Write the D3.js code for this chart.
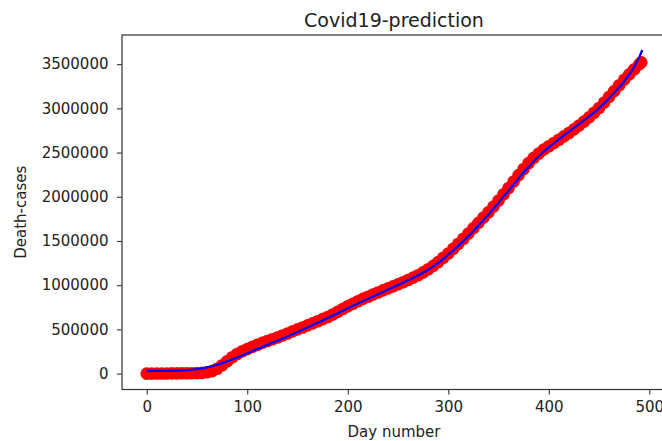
<!DOCTYPE html>
<html>
<head>
<meta charset="utf-8">
<script src="https://cdn.jsdelivr.net/npm/d3@7"></script>
<style>
  body { margin: 0; background: #fff; }
  text { font-family: "DejaVu Sans", sans-serif; fill: #222; }
</style>
</head>
<body>
<div id="chart"></div>
<script>
let obsDays = [0, 5, 10, 15, 20, 25, 30, 35, 40, 45, 50, 55, 60, 65, 70, 75, 80, 85, 90, 95,
  100, 105, 110, 115, 120, 125, 130, 135, 140, 145, 150, 155, 160, 165, 170, 175, 180, 185, 190, 195,
  200, 205, 210, 215, 220, 225, 230, 235, 240, 245, 250, 255, 260, 265, 270, 275, 280, 285, 290, 295,
  300, 305, 310, 315, 320, 325, 330, 335, 340, 345, 350, 355, 360, 365, 370, 375, 380, 385, 390, 395,
  400, 405, 410, 415, 420, 425, 430, 435, 440, 445, 450, 455, 460, 465, 470, 475, 480, 485, 490, 492];
let obsDeaths = [0, 0, 300, 500, 1000, 2000, 2500, 3000, 3200, 4000, 5000, 8000, 15000, 28000, 55000, 95000, 140000, 185000, 222000, 252000,
  278000, 302000, 325000, 347000, 368000, 388000, 409000, 431000, 454000, 477000, 500000, 522000, 545000, 568000, 592000, 616000, 640000, 668000, 698000, 730000,
  762000, 790000, 818000, 845000, 870000, 895000, 918000, 941000, 964000, 987000, 1010000, 1034000, 1058000, 1085000, 1113000, 1145000, 1180000, 1218000, 1262000, 1310000,
  1358000, 1412000, 1468000, 1525000, 1585000, 1645000, 1705000, 1765000, 1825000, 1890000, 1958000, 2028000, 2100000, 2172000, 2245000, 2315000, 2382000, 2440000, 2490000, 2535000,
  2572000, 2608000, 2645000, 2683000, 2722000, 2762000, 2805000, 2850000, 2898000, 2950000, 3005000, 3065000, 3130000, 3195000, 3262000, 3325000, 3385000, 3442000, 3498000, 3520000];

// fitted curve (blue line)
let fitDays = [0, 10, 20, 30, 40, 50, 60, 70, 80, 90, 100, 110, 120, 130, 140, 150, 160, 170, 180, 190,
  200, 210, 220, 230, 240, 250, 260, 270, 280, 290, 300, 310, 320, 330, 340, 350, 360, 370, 380, 390,
  400, 410, 420, 430, 440, 450, 460, 470, 475, 480, 485, 490, 493];
let fitDeaths = [30000, 30000, 31000, 33000, 38000, 50000, 70000, 100000, 138000, 182000, 230000, 278000, 325000, 372000, 420000, 470000, 522000, 575000, 628000, 682000,
  738000, 792000, 845000, 898000, 950000, 1002000, 1055000, 1112000, 1175000, 1252000, 1345000, 1445000, 1555000, 1675000, 1800000, 1932000, 2070000, 2208000, 2340000, 2458000,
  2560000, 2650000, 2737000, 2822000, 2908000, 3002000, 3115000, 3235000, 3305000, 3382000, 3470000, 3580000, 3660000];

let xTicks = [0, 100, 200, 300, 400, 500];
let yTicks = [0, 500000, 1000000, 1500000, 2000000, 2500000, 3000000, 3500000];

let W = 662, H = 441;
let margin = {top: 35, right: -4, bottom: 51.5, left: 122};

let svg = d3.select('#chart').append('svg')
  .attr('width', W)
  .attr('height', H);

svg.append('rect').attr('width', W).attr('height', H).attr('fill', '#fff');

let x = d3.scaleLinear()
  .domain([-24.6, 516.6])
  .range([margin.left, W - margin.right]);

let y = d3.scaleLinear()
  .domain([-180000, 3830000])
  .range([H - margin.bottom, margin.top]);

svg.append('clipPath').attr('id', 'plot')
  .append('rect')
  .attr('x', margin.left).attr('y', margin.top)
  .attr('width', W - margin.right - margin.left)
  .attr('height', H - margin.bottom - margin.top);

let plot = svg.append('g').attr('clip-path', 'url(#plot)');

// scatter
plot.selectAll('.dot')
  .data(obsDays)
  .enter().append('circle')
    .attr('class', 'dot')
    .attr('cx', d => x(d))
    .attr('cy', (d, i) => y(obsDeaths[i]))
    .attr('r', 6.3)
    .attr('fill', '#ff0000');

// fitted line
let line = d3.line()
  .x(d => x(d))
  .y((d, i) => y(fitDeaths[i]))
  .curve(d3.curveCatmullRom);

plot.append('path')
  .datum(fitDays)
  .attr('d', line)
  .attr('fill', 'none')
  .attr('stroke', '#0000ff')
  .attr('stroke-width', 2.2);

// axes
let xAxis = svg.append('g')
  .attr('transform', `translate(0, ${H - margin.bottom})`)
  .call(d3.axisBottom(x).tickValues(xTicks).tickSize(5).tickPadding(7).tickFormat(d3.format('d')));

let yAxis = svg.append('g')
  .attr('transform', `translate(${margin.left}, 0)`)
  .call(d3.axisLeft(y).tickValues(yTicks).tickSize(5).tickPadding(8.5).tickFormat(d3.format('d')));

[xAxis, yAxis].forEach(a => {
  a.select('.domain').remove();
  a.selectAll('line').attr('stroke', '#333').attr('stroke-width', 1.1);
  a.selectAll('text')
    .style('font-family', '"DejaVu Sans", sans-serif')
    .style('font-size', '15px')
    .attr('fill', '#222');
});

// frame
svg.append('rect')
  .attr('x', margin.left).attr('y', margin.top)
  .attr('width', W - margin.right - margin.left)
  .attr('height', H - margin.bottom - margin.top)
  .attr('fill', 'none')
  .attr('stroke', '#333')
  .attr('stroke-width', 1.2);

let cx = (margin.left + W - margin.right) / 2;

svg.append('text')
  .attr('x', cx).attr('y', 26.7)
  .attr('text-anchor', 'middle')
  .style('font-size', '19px')
  .text('Covid19-prediction');

svg.append('text')
  .attr('x', cx).attr('y', 437)
  .attr('text-anchor', 'middle')
  .style('font-size', '15px')
  .text('Day number');

svg.append('text')
  .attr('transform', `translate(26, ${(margin.top + H - margin.bottom) / 2}) rotate(-90)`)
  .attr('text-anchor', 'middle')
  .style('font-size', '15px')
  .text('Death-cases');
</script>
</body>
</html>
